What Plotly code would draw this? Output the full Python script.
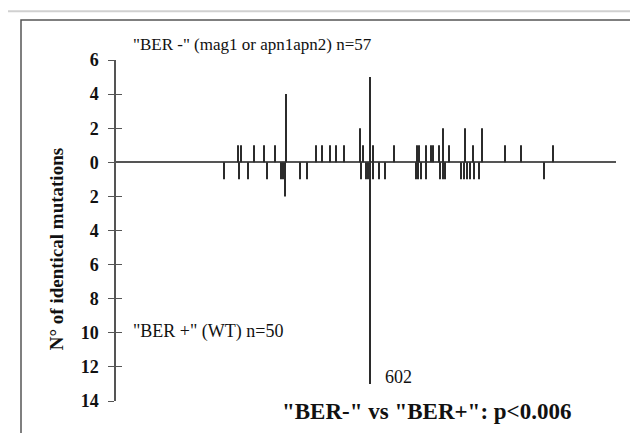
import plotly.graph_objects as go

# nucleotide positions (approx.) and number of identical mutations
upper_pos = [289, 296, 327, 351, 377, 403, 474, 488, 507, 521, 540, 578, 585, 602, 609,
             659, 713, 718, 735, 747, 751, 766, 775, 789, 827, 846, 867, 922, 960, 1036]
upper_cnt = [1, 1, 1, 1, 1, 4, 1, 1, 1, 1, 1, 2, 1, 5, 1,
             1, 1, 1, 1, 1, 1, 1, 2, 1, 2, 1, 2, 1, 1, 1]
lower_pos = [256, 292, 313, 358, 391, 396, 401, 436, 453, 581, 593, 597, 602, 609, 623,
             638, 711, 716, 723, 735, 768, 775, 780, 818, 825, 832, 839, 848, 860, 1014]
lower_cnt = [1, 1, 1, 1, 1, 1, 2, 1, 1, 1, 1, 1, 13, 1, 1,
             1, 1, 1, 1, 1, 1, 1, 1, 1, 1, 1, 1, 1, 1, 1]

tick_vals = [-14, -12, -10, -8, -6, -4, -2, 0, 2, 4, 6]
tick_text = ["14", "12", "10", "8", "6", "4", "2", "0", "2", "4", "6"]

SERIF = "Liberation Serif"
BAR = "#2b2b2b"

fig = go.Figure()
fig.add_trace(go.Bar(x=upper_pos, y=upper_cnt, width=3.5,
                     marker=dict(color=BAR, line=dict(width=0)), showlegend=False))
fig.add_trace(go.Bar(x=lower_pos, y=[-v for v in lower_cnt], width=3.5,
                     marker=dict(color=BAR, line=dict(width=0)), showlegend=False))

fig.update_layout(
    width=638, height=433,
    margin=dict(l=108, r=30, t=52, b=40),
    paper_bgcolor="white", plot_bgcolor="white",
    barmode="overlay",
    xaxis=dict(range=[0, 1185], showgrid=False, zeroline=False, showline=False,
               showticklabels=False, ticks=""),
    yaxis=dict(range=[-14, 6], tickvals=tick_vals, ticktext=tick_text,
               showgrid=False, zeroline=True, zerolinecolor="#555555", zerolinewidth=1.5,
               showline=True, linecolor="#555555", linewidth=1.5,
               ticks="outside", ticklen=6, tickwidth=1.2, tickcolor="#555555",
               ticklabelstandoff=6,
               tickfont=dict(family=SERIF, size=18, color="#111111", weight="bold")),
    yaxis2=dict(range=[-14, 6], overlaying="y", side="left", tickvals=tick_vals,
                showticklabels=False, showgrid=False, zeroline=False, showline=False,
                ticks="inside", ticklen=6, tickwidth=1.2, tickcolor="#555555"),
    font=dict(family=SERIF, color="#111111"),
)
# dummy trace to activate y2 ticks
fig.add_trace(go.Scatter(x=[None], y=[None], yaxis="y2", showlegend=False))

ann = [
    dict(text='"BER -" (mag1 or apn1apn2) n=57', xref="paper", yref="paper",
         x=0.03, y=1.045, xanchor="left", yanchor="middle",
         font=dict(family=SERIF, size=17, color="#111111")),
    dict(text='"BER +" (WT) n=50', xref="paper", yref="y",
         x=0.03, y=-9.9, xanchor="left", yanchor="middle",
         font=dict(family=SERIF, size=18, color="#111111")),
    dict(text="602", xref="x", yref="y", x=602, y=-12.6, xanchor="left", yanchor="middle",
         xshift=13, font=dict(family=SERIF, size=18, color="#111111")),
    dict(text='"BER-" vs "BER+": p<0.006', xref="paper", yref="paper",
         x=0.914, y=-0.03, xanchor="right", yanchor="middle",
         font=dict(family=SERIF, size=23, color="#111111", weight="bold")),
    dict(text="N° of identical mutations", xref="paper", yref="paper",
         x=-0.12, y=0.445, xanchor="center", yanchor="middle", textangle=-90,
         font=dict(family=SERIF, size=19, color="#111111", weight="bold")),
]
for a in ann:
    a["showarrow"] = False
    fig.add_annotation(**a)

# outer frame of the figure
fig.add_shape(type="rect", xref="paper", yref="paper", x0=-0.19, x1=1.04, y0=-0.15, y1=1.117,
              line=dict(color="#555555", width=1.5))
# faint scan streak along the top edge
fig.add_shape(type="line", xref="paper", yref="paper", x0=-0.216, x1=1.06, y0=1.143, y1=1.143,
              line=dict(color="#d0d0d0", width=2))

fig.write_html("out.html")
